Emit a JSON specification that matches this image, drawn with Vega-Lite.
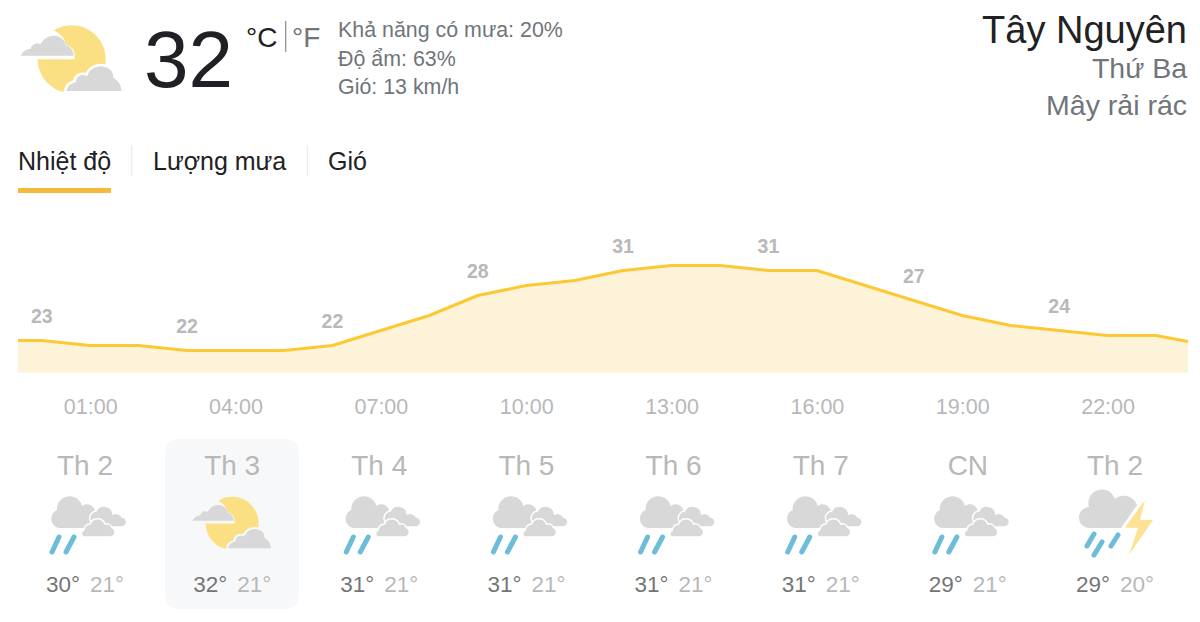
{
"$schema":"https://vega.github.io/schema/vega-lite/v6.json",
"width":1200,"height":622,"padding":0,
"autosize":{"type":"fit","contains":"padding"},
"background":"#ffffff",
"config":{"font":"Liberation Sans","view":{"stroke":null},"text":{"font":"Liberation Sans"}},
"datasets":{
"days":[
{"id":"d1","day":"Th 2","hi":"30°","lo":"21°","cond":"rain","selected":false},
{"id":"d2","day":"Th 3","hi":"32°","lo":"21°","cond":"partly","selected":true},
{"id":"d3","day":"Th 4","hi":"31°","lo":"21°","cond":"rain","selected":false},
{"id":"d4","day":"Th 5","hi":"31°","lo":"21°","cond":"rain","selected":false},
{"id":"d5","day":"Th 6","hi":"31°","lo":"21°","cond":"rain","selected":false},
{"id":"d6","day":"Th 7","hi":"31°","lo":"21°","cond":"rain","selected":false},
{"id":"d7","day":"CN","hi":"29°","lo":"21°","cond":"rain","selected":false},
{"id":"d8","day":"Th 2","hi":"29°","lo":"20°","cond":"thunder","selected":false}
],
"hours":[
{"hour":-0.49,"tempF":73},
{"hour":0,"tempF":73,"label":"23"},{"hour":1,"tempF":72},{"hour":2,"tempF":72},
{"hour":3,"tempF":71,"label":"22"},{"hour":4,"tempF":71},{"hour":5,"tempF":71},
{"hour":6,"tempF":72,"label":"22"},{"hour":7,"tempF":75},{"hour":8,"tempF":78},
{"hour":9,"tempF":82,"label":"28"},{"hour":10,"tempF":84},{"hour":11,"tempF":85},
{"hour":12,"tempF":87,"label":"31"},{"hour":13,"tempF":88},{"hour":14,"tempF":88},
{"hour":15,"tempF":87,"label":"31"},{"hour":16,"tempF":87},{"hour":17,"tempF":84},
{"hour":18,"tempF":81,"label":"27"},{"hour":19,"tempF":78},{"hour":20,"tempF":76},
{"hour":21,"tempF":75,"label":"24"},{"hour":22,"tempF":74},{"hour":23,"tempF":74},
{"hour":23.66,"tempF":72.8}
]
},
"resolve":{"scale":{"x":"independent","y":"independent"}},
"layer":[
{"data":{"name":"days"},"transform":[{"filter":"datum.selected"}],
 "mark":{"type":"bar","color":"#f7f8fa","cornerRadius":12},
 "encoding":{
  "x":{"field":"id","type":"nominal","axis":null,"scale":{"type":"band","domain":["d1","d2","d3","d4","d5","d6","d7","d8"],"range":[18,1181],"paddingInner":0.088,"paddingOuter":0}},
  "y":{"field":"day","type":"nominal","axis":null,"scale":{"type":"band","range":[439,609],"paddingInner":0,"paddingOuter":0}}
 }},
{"data":{"values":[{"label":"32"}]},"mark":{"type":"text","align":"left","baseline":"alphabetic","fontSize":80,"color":"#202124"},
 "encoding":{"x":{"field":"label","type":"nominal","axis":null,"scale":{"type":"point","range":[144,144]}},"y":{"field":"label","type":"nominal","axis":null,"scale":{"type":"point","range":[87,87]}},"text":{"field":"label"}}},
{"data":{"values":[{"label":"°C"}]},"mark":{"type":"text","align":"left","baseline":"alphabetic","fontSize":28,"color":"#202124"},
 "encoding":{"x":{"field":"label","type":"nominal","axis":null,"scale":{"type":"point","range":[246,246]}},"y":{"field":"label","type":"nominal","axis":null,"scale":{"type":"point","range":[47,47]}},"text":{"field":"label"}}},
{"data":{"values":[{"label":"°F"}]},"mark":{"type":"text","align":"left","baseline":"alphabetic","fontSize":28,"color":"#70757a"},
 "encoding":{"x":{"field":"label","type":"nominal","axis":null,"scale":{"type":"point","range":[292,292]}},"y":{"field":"label","type":"nominal","axis":null,"scale":{"type":"point","range":[47,47]}},"text":{"field":"label"}}},
{"data":{"values":[{"sep":"unit","a":0,"b":1}]},"mark":{"type":"rule","color":"#8a8a8a","strokeWidth":1.2},
 "encoding":{"x":{"field":"sep","type":"nominal","axis":null,"scale":{"type":"point","range":[285.7,285.7]}},"y":{"field":"a","type":"quantitative","axis":null,"scale":{"domain":[0,1],"range":[21,52]}},"y2":{"field":"b"}}},
{"data":{"values":[{"label":"Khả năng có mưa: 20%"},{"label":"Độ ẩm: 63%"},{"label":"Gió: 13 km/h"}]},"mark":{"type":"text","align":"left","baseline":"alphabetic","fontSize":21.4,"color":"#70757a"},
 "encoding":{"x":{"datum":"block","type":"nominal","axis":null,"scale":{"type":"point","range":[338,338]}},"y":{"field":"label","type":"nominal","sort":null,"axis":null,"scale":{"type":"point","padding":0,"range":[37,94]}},"text":{"field":"label"}}},
{"data":{"values":[{"label":"Tây Nguyên"}]},"mark":{"type":"text","align":"right","baseline":"alphabetic","fontSize":38,"color":"#202124"},
 "encoding":{"x":{"field":"label","type":"nominal","axis":null,"scale":{"type":"point","range":[1187,1187]}},"y":{"field":"label","type":"nominal","axis":null,"scale":{"type":"point","range":[43,43]}},"text":{"field":"label"}}},
{"data":{"values":[{"label":"Thứ Ba"},{"label":"Mây rải rác"}]},"mark":{"type":"text","align":"right","baseline":"alphabetic","fontSize":28.5,"color":"#70757a"},
 "encoding":{"x":{"datum":"block","type":"nominal","axis":null,"scale":{"type":"point","range":[1187,1187]}},"y":{"field":"label","type":"nominal","sort":null,"axis":null,"scale":{"type":"point","padding":0,"range":[78,115]}},"text":{"field":"label"}}},
{"data":{"values":[{"label":"Nhiệt độ"}]},"mark":{"type":"text","align":"left","baseline":"alphabetic","fontSize":25,"color":"#202124"},
 "encoding":{"x":{"field":"label","type":"nominal","axis":null,"scale":{"type":"point","range":[18,18]}},"y":{"field":"label","type":"nominal","axis":null,"scale":{"type":"point","range":[170,170]}},"text":{"field":"label"}}},
{"data":{"values":[{"label":"Lượng mưa"}]},"mark":{"type":"text","align":"left","baseline":"alphabetic","fontSize":25,"color":"#202124"},
 "encoding":{"x":{"field":"label","type":"nominal","axis":null,"scale":{"type":"point","range":[153,153]}},"y":{"field":"label","type":"nominal","axis":null,"scale":{"type":"point","range":[170,170]}},"text":{"field":"label"}}},
{"data":{"values":[{"label":"Gió"}]},"mark":{"type":"text","align":"left","baseline":"alphabetic","fontSize":25,"color":"#202124"},
 "encoding":{"x":{"field":"label","type":"nominal","axis":null,"scale":{"type":"point","range":[328,328]}},"y":{"field":"label","type":"nominal","axis":null,"scale":{"type":"point","range":[170,170]}},"text":{"field":"label"}}},
{"data":{"values":[{"sep":"s1","a":0,"b":1},{"sep":"s2","a":0,"b":1}]},"mark":{"type":"rule","color":"#e8eaed","strokeWidth":1.2},
 "encoding":{"x":{"field":"sep","type":"nominal","axis":null,"scale":{"type":"point","padding":0,"range":[131.7,307.3]}},"y":{"field":"a","type":"quantitative","axis":null,"scale":{"domain":[0,1],"range":[145,176]}},"y2":{"field":"b"}}},
{"data":{"values":[{"tab":"Nhiệt độ","a":0,"b":1}]},"mark":{"type":"rule","color":"#f5b93d","strokeWidth":5},
 "encoding":{"x":{"field":"a","type":"quantitative","axis":null,"scale":{"domain":[0,1],"range":[18,111]}},"x2":{"field":"b"},"y":{"field":"tab","type":"nominal","axis":null,"scale":{"type":"point","range":[190.5,190.5]}}}},
{"data":{"name":"hours"},
 "encoding":{
  "x":{"field":"hour","type":"quantitative","scale":{"domain":[-0.49,23.66],"range":[18,1188]},
   "axis":{"orient":"bottom","values":[1,4,7,10,13,16,19,22],"labelExpr":"(datum.value<10?'0':'')+datum.value+':00'","title":null,"grid":false,"domain":false,"ticks":false,"labelPadding":0,"offset":-226,"labelColor":"#b8b8b8","labelFontSize":21.5,"labelFont":"Liberation Sans","labelOverlap":false,"labelFlush":false}},
  "y":{"field":"tempF","type":"quantitative","axis":null,"scale":{"domain":[66.56,88],"range":[372.7,265.5]}}
 },
 "layer":[
  {"mark":{"type":"area","color":"#fcf3d9","opacity":1},"encoding":{"y2":{"datum":66.56}}},
  {"mark":{"type":"line","color":"#fcc934","strokeWidth":3,"strokeJoin":"round"}},
  {"transform":[{"filter":"datum.label"}],"mark":{"type":"text","fontWeight":"bold","fontSize":19.5,"color":"#b8b8b8","dy":-24},"encoding":{"text":{"field":"label"}}}
 ]},
{"data":{"name":"days"},"mark":{"type":"text","fontSize":28,"color":"#b8b8b8","baseline":"alphabetic"},
 "encoding":{"x":{"field":"id","type":"nominal","axis":null,"scale":{"type":"point","padding":0,"range":[85,1115]}},"y":{"datum":"name","type":"nominal","axis":null,"scale":{"type":"point","range":[475,475]}},"text":{"field":"day"}}},
{"data":{"name":"days"},"mark":{"type":"text","fontSize":22.5,"color":"#757575","baseline":"alphabetic","dx":-22},
 "encoding":{"x":{"field":"id","type":"nominal","axis":null,"scale":{"type":"point","padding":0,"range":[85,1115]}},"y":{"datum":"hi","type":"nominal","axis":null,"scale":{"type":"point","range":[592,592]}},"text":{"field":"hi"}}},
{"data":{"name":"days"},"mark":{"type":"text","fontSize":22.5,"color":"#b8b8b8","baseline":"alphabetic","dx":22},
 "encoding":{"x":{"field":"id","type":"nominal","axis":null,"scale":{"type":"point","padding":0,"range":[85,1115]}},"y":{"datum":"lo","type":"nominal","axis":null,"scale":{"type":"point","range":[592,592]}},"text":{"field":"lo"}}},
{"data":{"name":"days"},"transform":[{"filter":"datum.cond==='rain'"}],
 "encoding":{"x":{"field":"id","type":"nominal","axis":null,"scale":{"type":"point","padding":0,"domain":["d1","d2","d3","d4","d5","d6","d7","d8"],"range":[85,1115]}},"y":{"datum":"icon","type":"nominal","axis":null,"scale":{"type":"point","range":[525,525]}}},
 "layer":[
  {"mark":{"type":"point","filled":true,"size":4,"opacity":1,"color":"#d8d8d8","shape":"M-26 3 A9.5 9.5 0 0 1 -28 -15 A12.7 12.7 0 0 1 -3 -19 A8 8 0 0 1 10 -13 L12 3 Z"}},
  {"mark":{"type":"point","filled":true,"size":4,"opacity":1,"fill":"#d8d8d8","stroke":"#ffffff","strokeWidth":1.5,"shape":"M8 2 L36 2 A5 5 0 0 0 37 -8 A7 7 0 0 0 28 -11 A9 9 0 0 0 11 -14 A7 7 0 0 0 5 -5 Z"}},
  {"mark":{"type":"point","filled":true,"size":4,"opacity":1,"fill":"#d8d8d8","stroke":"#ffffff","strokeWidth":1.5,"shape":"M-2 12 L26 12 A5 5 0 0 0 27 2.5 A6 6 0 0 0 20 -1 A8 8 0 0 0 5 -1 A6 6 0 0 0 -1 5 A4 4 0 0 0 -2 12 Z"}},
  {"mark":{"type":"point","filled":false,"size":4,"opacity":1,"stroke":"#6dbdd8","strokeWidth":5,"strokeCap":"round","shape":"M-26 12 L-33 27 M-11 12 L-19 27"}}
 ]},
{"data":{"name":"days"},"transform":[{"filter":"datum.cond==='thunder'"}],
 "encoding":{"x":{"field":"id","type":"nominal","axis":null,"scale":{"type":"point","padding":0,"domain":["d1","d2","d3","d4","d5","d6","d7","d8"],"range":[85,1115]}},"y":{"datum":"icon","type":"nominal","axis":null,"scale":{"type":"point","range":[525,525]}}},
 "layer":[
  {"mark":{"type":"point","filled":true,"size":4,"opacity":1,"color":"#d8d8d8","shape":"M-25 3 A10.5 10.5 0 0 1 -26 -18 A13.6 13.6 0 0 1 0 -26 A14 14 0 0 1 22 -20 L6 3 Z"}},
  {"mark":{"type":"point","filled":true,"size":4,"opacity":1,"color":"#fde293","shape":"M30 -25 L10 2.5 L23 3 L14 30 L38 -5 L25 -5 Z"}},
  {"mark":{"type":"point","filled":false,"size":4,"opacity":1,"stroke":"#6dbdd8","strokeWidth":5,"strokeCap":"round","shape":"M-21 9 L-28 21 M-13 17 L-21 30 M3 10 L-4 21"}}
 ]},
{"data":{"values":[{"cond":"partly"}]},
 "encoding":{"x":{"field":"cond","type":"nominal","axis":null,"scale":{"type":"point","range":[71.7,71.7]}},"y":{"field":"cond","type":"nominal","axis":null,"scale":{"type":"point","range":[58.3,58.3]}}},
 "layer":[
  {"mark":{"type":"point","filled":true,"size":4,"opacity":1,"color":"#fbe083","shape":"M-34 1 L3 1 L3 -4 C2 -12 -4 -12 -6 -14 C-8 -22 -12 -25 -18 -28 A34 34 0 1 1 -34 1 Z"}},
  {"mark":{"type":"point","filled":true,"size":4,"opacity":1,"color":"#d8d8d8","shape":"M-51 -2.5 C-49 -7 -45 -9 -41 -9.5 C-40 -14 -35 -16 -31 -14 C-28 -21 -20 -24 -14 -22 C-8 -20 -6 -15 -6 -13 C-1 -12 2 -7 2 -2.5 Z"}},
  {"mark":{"type":"point","filled":true,"size":4,"opacity":1,"fill":"#d8d8d8","stroke":"#ffffff","strokeWidth":2.5,"shape":"M-7 34 C-6 28 -2 24 3 23 C3 17 9 14 15 16 C17 9 25 6 32 7 C39 8 43 13 43 19 C48 22 51 28 51 34 Z"}}
 ]},
{"data":{"name":"days"},"transform":[{"filter":"datum.cond==='partly'"}],
 "encoding":{"x":{"field":"id","type":"nominal","axis":null,"scale":{"type":"point","padding":0,"domain":["d1","d2","d3","d4","d5","d6","d7","d8"],"range":[85,1115]}},"y":{"datum":"icon","type":"nominal","axis":null,"scale":{"type":"point","range":[522.7,522.7]}}},
 "layer":[
  {"mark":{"type":"point","filled":true,"size":2.43,"opacity":1,"color":"#fbe083","shape":"M-34 1 L3 1 L3 -4 C2 -12 -4 -12 -6 -14 C-8 -22 -12 -25 -18 -28 A34 34 0 1 1 -34 1 Z"}},
  {"mark":{"type":"point","filled":true,"size":2.43,"opacity":1,"color":"#d8d8d8","shape":"M-51 -2.5 C-49 -7 -45 -9 -41 -9.5 C-40 -14 -35 -16 -31 -14 C-28 -21 -20 -24 -14 -22 C-8 -20 -6 -15 -6 -13 C-1 -12 2 -7 2 -2.5 Z"}},
  {"mark":{"type":"point","filled":true,"size":2.43,"opacity":1,"fill":"#d8d8d8","stroke":"#f7f8fa","strokeWidth":2,"shape":"M-7 34 C-6 28 -2 24 3 23 C3 17 9 14 15 16 C17 9 25 6 32 7 C39 8 43 13 43 19 C48 22 51 28 51 34 Z"}}
 ]}
]
}
